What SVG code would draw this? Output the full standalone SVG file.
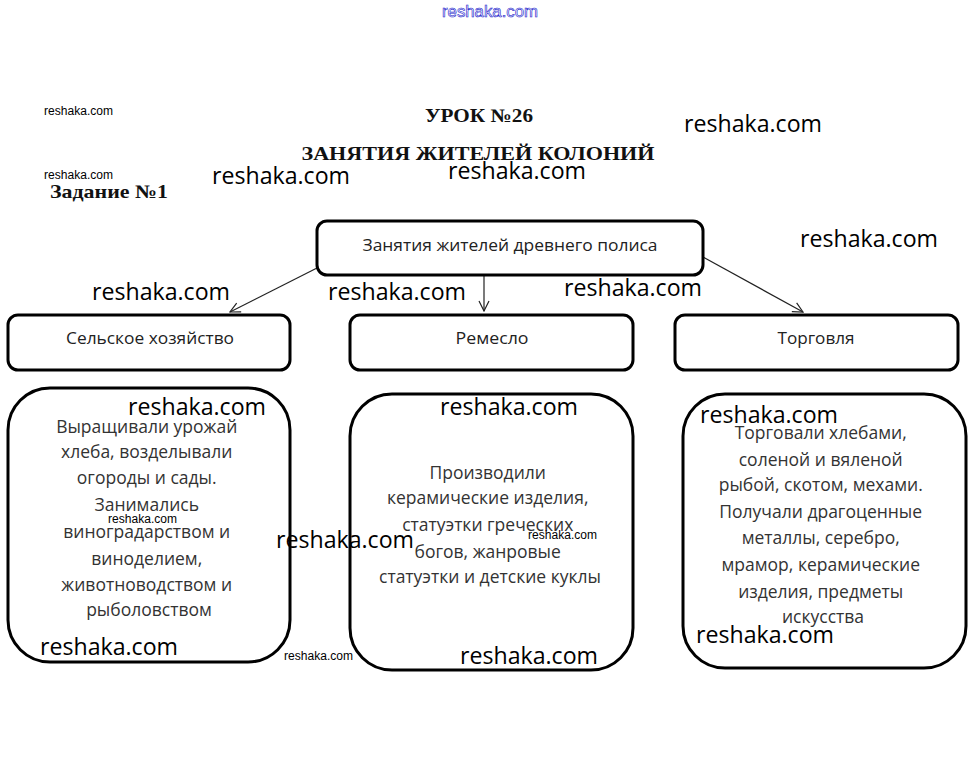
<svg xmlns="http://www.w3.org/2000/svg" width="978" height="774" viewBox="0 0 978 774">
<style>
.box{fill:#fff;stroke:#000;stroke-width:3}
.big{fill:#fff;stroke:#000;stroke-width:3}
.t{font-family:"Open Sans","Noto Sans",sans-serif;fill:#222;text-anchor:middle}
.tt{font-size:16px}
.bt{font-size:17.5px;fill:#333}
.hd{font-family:"Liberation Serif",serif;font-weight:bold;fill:#111;text-anchor:middle}
.wm{font-family:"Open Sans","Noto Sans",sans-serif;fill:#000;font-size:23px}
.ws{font-family:"Liberation Sans",sans-serif;fill:#000;font-size:12px}
.con{stroke:#222;stroke-width:1.2;fill:none}
</style>
<defs>
<marker id="ah" viewBox="0 0 12 12" refX="11" refY="6" markerWidth="12" markerHeight="12" markerUnits="userSpaceOnUse" orient="auto">
<path d="M1,1 L11,6 L1,11" fill="none" stroke="#222" stroke-width="1.2"/>
</marker>
</defs>
<rect width="978" height="774" fill="#fff"/>

<text x="490" y="17" font-family="Liberation Sans,sans-serif" font-size="16" fill="#fff" stroke="#2222cc" stroke-width="0.6" text-anchor="middle" textLength="96" lengthAdjust="spacingAndGlyphs">reshaka.com</text>

<g id="title">
<text class="hd" x="479" y="122" font-size="19" textLength="108" lengthAdjust="spacingAndGlyphs">УРОК №26</text>
<text class="hd" x="478" y="160" font-size="19" textLength="353" lengthAdjust="spacingAndGlyphs">ЗАНЯТИЯ ЖИТЕЛЕЙ КОЛОНИЙ</text>
<text class="hd" x="109" y="198" font-size="19" textLength="118" lengthAdjust="spacingAndGlyphs">Задание №1</text>
</g>

<g id="connectors">
<line class="con" x1="317" y1="268" x2="230" y2="312" marker-end="url(#ah)"/>
<line class="con" x1="484" y1="276" x2="484" y2="311" marker-end="url(#ah)"/>
<line class="con" x1="703" y1="257" x2="803" y2="312" marker-end="url(#ah)"/>
</g>

<g id="root">
<rect class="box" x="317" y="221" width="386" height="54" rx="10"/>
<text class="t tt" x="510" y="251" textLength="295" lengthAdjust="spacingAndGlyphs">Занятия жителей древнего полиса</text>
</g>

<g id="agri">
<rect class="box" x="8" y="315" width="282" height="55" rx="10"/>
<text class="t tt" x="150" y="344" textLength="168" lengthAdjust="spacingAndGlyphs">Сельское хозяйство</text>
</g>
<g id="craft">
<rect class="box" x="350" y="315" width="283" height="55" rx="10"/>
<text class="t tt" x="492" y="344" textLength="73" lengthAdjust="spacingAndGlyphs">Ремесло</text>
</g>
<g id="trade">
<rect class="box" x="675" y="315" width="283" height="55" rx="10"/>
<text class="t tt" x="816" y="344" textLength="77" lengthAdjust="spacingAndGlyphs">Торговля</text>
</g>

<g id="agri-desc">
<rect class="big" x="8" y="388" width="282" height="274" rx="42"/>
<text class="t bt" x="149">
<tspan x="149" y="433">Выращивали урожай</tspan>
<tspan x="149" y="458">хлеба, возделывали</tspan>
<tspan x="149" y="484">огороды и сады.</tspan>
<tspan x="149" y="511">Занимались</tspan>
<tspan x="149" y="538">виноградарством и</tspan>
<tspan x="149" y="565">виноделием,</tspan>
<tspan x="149" y="591">животноводством и</tspan>
<tspan x="149" y="616">рыболовством</tspan>
</text>
</g>

<g id="craft-desc">
<rect class="big" x="350" y="394" width="283" height="276" rx="42"/>
<text class="t bt" x="490">
<tspan x="490" y="479">Производили</tspan>
<tspan x="490" y="504">керамические изделия,</tspan>
<tspan x="490" y="531">статуэтки греческих</tspan>
<tspan x="490" y="558">богов, жанровые</tspan>
<tspan x="490" y="583">статуэтки и детские куклы</tspan>
</text>
</g>

<g id="trade-desc">
<rect class="big" x="683" y="394" width="283" height="274" rx="42"/>
<text class="t bt" x="823">
<tspan x="823" y="439">Торговали хлебами,</tspan>
<tspan x="823" y="466">соленой и вяленой</tspan>
<tspan x="823" y="491">рыбой, скотом, мехами.</tspan>
<tspan x="823" y="518">Получали драгоценные</tspan>
<tspan x="823" y="544">металлы, серебро,</tspan>
<tspan x="823" y="571">мрамор, керамические</tspan>
<tspan x="823" y="598">изделия, предметы</tspan>
<tspan x="823" y="623">искусства</tspan>
</text>
</g>

<g id="watermarks">
<text class="ws" x="44" y="115" textLength="69" lengthAdjust="spacingAndGlyphs">reshaka.com</text>
<text class="ws" x="44" y="179" textLength="69" lengthAdjust="spacingAndGlyphs">reshaka.com</text>
<text class="ws" x="108" y="523" textLength="69" lengthAdjust="spacingAndGlyphs">reshaka.com</text>
<text class="ws" x="528" y="539" textLength="69" lengthAdjust="spacingAndGlyphs">reshaka.com</text>
<text class="ws" x="284" y="660" textLength="69" lengthAdjust="spacingAndGlyphs">reshaka.com</text>
<text class="wm" x="684" y="132" textLength="138" lengthAdjust="spacingAndGlyphs">reshaka.com</text>
<text class="wm" x="212" y="184" textLength="138" lengthAdjust="spacingAndGlyphs">reshaka.com</text>
<text class="wm" x="448" y="179" textLength="138" lengthAdjust="spacingAndGlyphs">reshaka.com</text>
<text class="wm" x="800" y="247" textLength="138" lengthAdjust="spacingAndGlyphs">reshaka.com</text>
<text class="wm" x="92" y="300" textLength="138" lengthAdjust="spacingAndGlyphs">reshaka.com</text>
<text class="wm" x="328" y="300" textLength="138" lengthAdjust="spacingAndGlyphs">reshaka.com</text>
<text class="wm" x="564" y="296" textLength="138" lengthAdjust="spacingAndGlyphs">reshaka.com</text>
<text class="wm" x="128" y="415" textLength="138" lengthAdjust="spacingAndGlyphs">reshaka.com</text>
<text class="wm" x="440" y="415" textLength="138" lengthAdjust="spacingAndGlyphs">reshaka.com</text>
<text class="wm" x="700" y="423" textLength="138" lengthAdjust="spacingAndGlyphs">reshaka.com</text>
<text class="wm" x="276" y="548" textLength="138" lengthAdjust="spacingAndGlyphs">reshaka.com</text>
<text class="wm" x="40" y="655" textLength="138" lengthAdjust="spacingAndGlyphs">reshaka.com</text>
<text class="wm" x="460" y="664" textLength="138" lengthAdjust="spacingAndGlyphs">reshaka.com</text>
<text class="wm" x="696" y="643" textLength="138" lengthAdjust="spacingAndGlyphs">reshaka.com</text>
</g>
</svg>
